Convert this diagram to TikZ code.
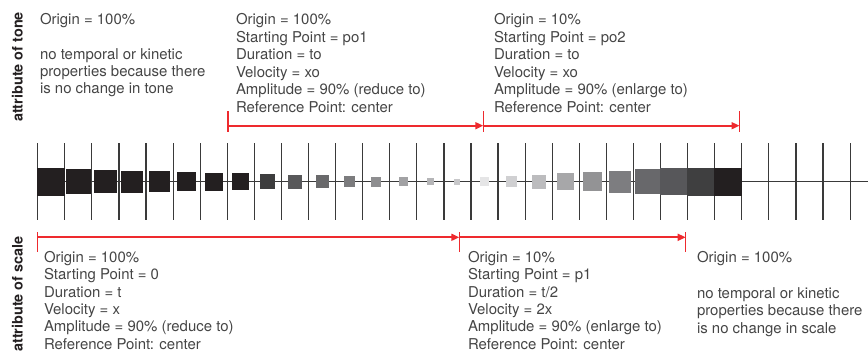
\documentclass[tikz,border=0pt]{standalone}
\usepackage{fontspec}
\setmainfont{TeX Gyre Heros}
\usetikzlibrary{arrows.meta}
\definecolor{ink}{HTML}{231F20}
\definecolor{txt}{HTML}{454545}
\definecolor{axis}{HTML}{3A3A3A}
\definecolor{redline}{HTML}{EE2A2E}
\begin{document}
\begin{tikzpicture}[x=1bp,y=-1bp,
  every node/.style={inner sep=0pt, outer sep=0pt},
  info/.style={anchor=base west, text=txt, font=\fontsize{15}{17.5}\selectfont},
  sidelabel/.style={rotate=90, anchor=base, text=ink, font=\fontsize{14.5}{17}\selectfont\bfseries},
  tickline/.style={draw=axis, line width=1.2bp},
  axisline/.style={draw=axis, line width=1.2bp},
  sq/.style={minimum size=#1, inner sep=0pt, outer sep=0pt, draw=none},
  spanarrow/.style={color=redline, line width=1.7bp, -{Triangle[length=8bp,width=7bp]}},
  endbar/.style={color=redline, line width=1.5bp},
]
\useasboundingbox (0,0) rectangle (868,351);

% side labels
\node[sidelabel] (tone) at (22.5,67) {attribute of tone};
\node[sidelabel] (scale) at (22.5,294) {attribute of scale};

% axis and ticks
\coordinate (axisL) at (37.7,181.5);
\coordinate (axisR) at (868,181.5);
\draw[axisline] (axisL) -- (axisR);
\foreach \k in {0,...,30}
  \draw[tickline] ({37.7+27.08*\k},143) -- ++(0,77);

% squares
\foreach \k/\s/\c in {0/28/231F20,1/24.5/231F20,2/22.7/231F20,3/22/231F20,4/21/231F20,
  5/19/231F20,6/18/231F20,7/17/231F20,8/15/3D3D3E,9/14/58585A,10/13/69696B,
  11/11/7C7C7E,12/10/8E8E90,13/9/A2A2A4,14/7/B5B5B7,15/6/C8C8CA,
  16/9/E5E5E6,17/11/D0D0D2,18/14/BCBCBE,19/17/A7A7A9,20/19/939395,
  21/22/7D7D80,22/25/68686B,23/27.5/57575A,24/28/3F3F40,25/28/231F20}{
  \definecolor{sqc}{HTML}{\c}
  \node[sq=\s bp, fill=sqc] (sq\k) at ({37.7+27.08*(\k+0.5)},181.7) {};
}

% top spans
\coordinate (ta) at (228,125.7);
\coordinate (tb) at (483.3,125.7);
\coordinate (tc) at (739.5,125.7);
\foreach \p in {ta,tb,tc}
  \draw[endbar] (\p) ++(0,-14.7) -- ++(0,21);
\draw[spanarrow] (ta) -- (tb);
\draw[spanarrow] (tb) -- (tc);

% bottom spans
\coordinate (ba) at (37.7,237.3);
\coordinate (bb) at (459.3,237.3);
\coordinate (bc) at (685.7,237.3);
\foreach \p in {ba,bb,bc}
  \draw[endbar] (\p) ++(0,-5.3) -- ++(0,20);
\draw[spanarrow] (ba) -- (bb);
\draw[spanarrow] (bb) -- (bc);

% top texts
\node[info] (tl0) at (40,24.5) {Origin = 100\%};
\foreach \t [count=\i from 0] in {no temporal or kinetic, properties because there, is no change in tone}
  \node[info] (tlp\i) at (40,59.5+17*\i) {\t};
\foreach \t [count=\i from 0] in {Origin = 100\%, Starting Point = po1, Duration = to, Velocity = xo, Amplitude = 90\% (reduce to), Reference Point: center}
  \node[info] (tm\i) at (236,24.5+17.5*\i) {\t};
\foreach \t [count=\i from 0] in {Origin = 10\%, Starting Point = po2, Duration = to, Velocity = xo, Amplitude = 90\% (enlarge to), Reference Point: center}
  \node[info] (tr\i) at (494,24.5+17.5*\i) {\t};

% bottom texts
\foreach \t [count=\i from 0] in {Origin = 100\%, Starting Point = 0, Duration = t, Velocity = x, Amplitude = 90\% (reduce to), Reference Point: center}
  \node[info] (bl\i) at (44,262.5+17.3*\i) {\t};
\foreach \t [count=\i from 0] in {Origin = 10\%, Starting Point = p1, Duration = t/2, Velocity = 2x, Amplitude = 90\% (enlarge to), Reference Point: center}
  \node[info] (bm\i) at (468,262.5+17.3*\i) {\t};
\node[info] (br0) at (697,262.5) {Origin = 100\%};
\foreach \t [count=\i from 0] in {no temporal or kinetic, properties because there, is no change in scale}
  \node[info] (brp\i) at (697,298.5+17.3*\i) {\t};
\end{tikzpicture}
\end{document}
